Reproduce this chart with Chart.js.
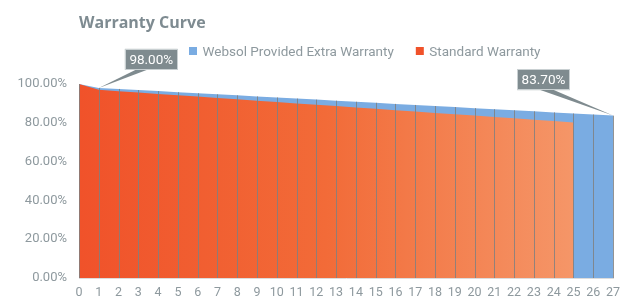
<!DOCTYPE html>
<html>
<head>
<meta charset="utf-8">
<script src="https://cdn.jsdelivr.net/npm/chart.js@4"></script>
<style>
  html, body { margin: 0; padding: 0; background: #fff; }
  #wrap { width: 632px; height: 298px; }
</style>
</head>
<body>
<div id="wrap"><canvas id="myChart" width="632" height="298"></canvas></div>
<script>
const years = ['0','1','2','3','4','5','6','7','8','9','10','11','12','13','14','15','16','17','18','19','20','21','22','23','24','25','26','27'];

// extra warranty curve (top, blue) - 98% after year 1, 83.7% at year 27
const extraWarranty = [100, 98.00, 97.45, 96.90, 96.35, 95.80, 95.25, 94.70, 94.15, 93.60, 93.05, 92.50, 91.95, 91.40,
  90.85, 90.30, 89.75, 89.20, 88.65, 88.10, 87.55, 87.00, 86.45, 85.90, 85.35, 84.80, 84.25, 83.70];

// standard warranty (orange), ends at year 25
const standardWarranty = [100, 97.0, 96.3, 95.6, 94.9, 94.2, 93.5, 92.8, 92.1, 91.4, 90.7, 90.0, 89.3, 88.6,
  87.9, 87.2, 86.5, 85.8, 85.1, 84.4, 83.7, 83.0, 82.3, 81.6, 80.9, 80.2];

const yTicks = [0, 20, 40, 60, 80, 100];

const seriesNames = ['Websol Provided Extra Warranty', 'Standard Warranty'];
const blue = '#7aace2';
const orange = '#f0522a';
const grey = '#8e999e';
const FONT = 'Roboto, "Noto Sans", sans-serif';

const ctx = document.getElementById('myChart');

function orangeFill(c) {
  const chart = c.chart;
  const area = chart.chartArea;
  if (!area) return orange;
  const x0 = chart.scales.x.getPixelForValue(0);
  const x1 = chart.scales.x.getPixelForValue(standardWarranty.length - 1);
  const g = chart.ctx.createLinearGradient(x0, 0, x1, 0);
  g.addColorStop(0, '#f0522a');
  g.addColorStop(0.5, '#f26b38');
  g.addColorStop(1, '#f59668');
  return g;
}

// title + legend drawn by hand so they sit where the original has them
const headerPlugin = {
  id: 'header',
  afterDraw(chart) {
    const c = chart.ctx;
    c.save();
    c.fillStyle = '#7e8b91';
    c.font = 'bold 16px "Open Sans", Roboto, sans-serif';
    c.textBaseline = 'alphabetic';
    c.fillText('Warranty Curve', chart.chartArea.left, 27.5);

    c.font = '13.5px ' + FONT;
    let x = 189;
    const cols = [blue, orange];
    chart.data.datasets.forEach((ds, i) => {
      c.fillStyle = cols[i];
      c.fillRect(x, 47, 8, 8);
      x += 13.5;
      c.fillStyle = grey;
      c.fillText(ds.label, x, 55.5);
      x += c.measureText(ds.label).width + 22;
    });
    c.restore();
  }
};

// vertical lines from the curve down to the axis
const dropLines = {
  id: 'dropLines',
  afterDatasetsDraw(chart) {
    const c = chart.ctx;
    const xs = chart.scales.x, ys = chart.scales.y;
    c.save();
    c.strokeStyle = 'rgba(128,128,128,0.85)';
    c.lineWidth = 1;
    years.forEach((y, i) => {
      const top = Math.max(extraWarranty[i] || 0, standardWarranty[i] || 0);
      const px = Math.round(xs.getPixelForValue(i)) + 0.5;
      c.beginPath();
      c.moveTo(px, ys.getPixelForValue(top));
      c.lineTo(px, ys.getPixelForValue(0));
      c.stroke();
    });
    c.restore();
  }
};

// the two grey call-outs
const callouts = {
  id: 'callouts',
  afterDraw(chart) {
    const items = [
      { i: 1, dx: 52.5, dy: -18, base: [-14, -2] },
      { i: extraWarranty.length - 1, dx: -69.5, dy: -25.5, base: [-6, 8] }
    ];
    const c = chart.ctx;
    c.save();
    c.font = '13.5px ' + FONT;
    items.forEach(it => {
      const v = extraWarranty[it.i];
      const px = chart.scales.x.getPixelForValue(it.i);
      const py = chart.scales.y.getPixelForValue(v);
      const txt = v.toFixed(2) + '%';
      const w = c.measureText(txt).width + 9;
      const h = 21;
      const cx = px + it.dx;
      const by = py + it.dy;
      c.fillStyle = '#7f8b8f';
      c.beginPath();
      c.moveTo(cx + it.base[0], by - 1);
      c.lineTo(px, py);
      c.lineTo(cx + it.base[1], by - 1);
      c.closePath();
      c.fill();
      c.fillRect(cx - w / 2, by - h, w, h);
      c.strokeStyle = '#c9d0d2';
      c.lineWidth = 1;
      c.strokeRect(Math.round(cx - w / 2) + 0.5, Math.round(by - h) + 0.5, Math.round(w) - 1, h - 1);
      c.fillStyle = '#ffffff';
      c.textAlign = 'center';
      c.textBaseline = 'middle';
      c.fillText(txt, cx, by - h / 2 + 1);
    });
    c.restore();
  }
};

new Chart(ctx, {
  type: 'line',
  data: {
    labels: years,
    datasets: [{
      label: seriesNames[0],
      data: extraWarranty,
      backgroundColor: blue,
      borderWidth: 0,
      pointRadius: 0,
      fill: 'origin',
      order: 1
    }, {
      label: seriesNames[1],
      data: standardWarranty,
      backgroundColor: orangeFill,
      borderWidth: 0,
      pointRadius: 0,
      fill: 'origin',
      order: 0
    }]
  },
  options: {
    responsive: false,
    animation: false,
    layout: { padding: { top: 84, right: 19, left: 0, bottom: 0 } },
    plugins: {
      legend: { display: false },
      title: { display: false },
      tooltip: { enabled: false }
    },
    scales: {
      x: {
        grid: { display: false, drawTicks: false },
        border: { display: true, color: '#dcdcdc' },
        ticks: { color: grey, font: { family: FONT, size: 12.5 }, autoSkip: false, maxRotation: 0, padding: 7 },
        afterFit(s) { s.height = 20; }
      },
      y: {
        min: 0,
        max: 100,
        afterBuildTicks(s) { s.ticks = yTicks.map(v => ({ value: v })); },
        grid: { display: false, drawTicks: false },
        border: { display: false },
        ticks: {
          color: grey,
          font: { family: FONT, size: 13 },
          padding: 12,
          callback: v => v.toFixed(2) + '%'
        },
        afterFit(s) { s.width = 79; }
      }
    }
  },
  plugins: [headerPlugin, dropLines, callouts]
});
</script>
</body>
</html>
